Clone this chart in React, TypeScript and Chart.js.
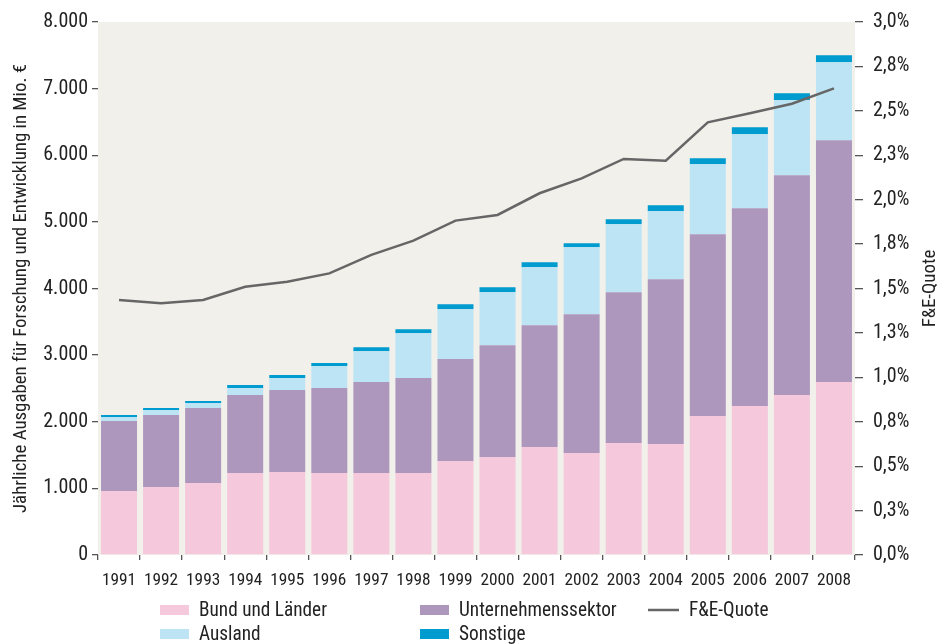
import React, { useEffect, useRef } from "react";
import { Chart, registerables } from "chart.js";

Chart.register(...registerables);

const years = ["1991","1992","1993","1994","1995","1996","1997","1998","1999","2000","2001","2002","2003","2004","2005","2006","2007","2008"];
const bundLaender = [960,1020,1080,1230,1245,1230,1230,1230,1410,1470,1620,1530,1680,1665,2085,2235,2400,2595];
const unternehmen = [1050,1080,1125,1170,1230,1275,1365,1425,1530,1680,1830,2085,2265,2475,2730,2970,3300,3630];
const ausland = [60,75,75,105,180,330,465,675,750,795,870,1005,1020,1020,1050,1110,1125,1170];
const sonstige = [30,30,30,45,45,45,60,60,75,75,75,60,75,90,90,105,105,105];
const feQuote = [1.435,1.417,1.435,1.51,1.538,1.585,1.689,1.769,1.882,1.914,2.036,2.12,2.229,2.219,2.435,2.486,2.54,2.626];

const leftTitle = "Jährliche Ausgaben für Forschung und Entwicklung in Mio. €";
const rightTitle = "F&E-Quote";

const FONT = "'Roboto Condensed', 'Liberation Sans Narrow', 'DejaVu Sans Condensed', sans-serif";
const TEXT = "#222222";
const TICK = "#555555";

function measure(text: string, size: number): number {
  const c = document.createElement("canvas").getContext("2d")!;
  c.font = `${size}px ${FONT}`;
  return c.measureText(text).width;
}
function fitSize(text: string, targetW: number): number {
  return Math.round((100 * targetW / measure(text, 100)) * 10) / 10;
}

export default function App() {
  const ref = useRef<HTMLCanvasElement | null>(null);
  useEffect(() => {
    document.body.style.margin = "0";
    if (!ref.current) return;
    const xSize = Math.min(fitSize("1991", 31) * 1.1, 18);
    const ySize = Math.min(fitSize("8.000", 42) * 1.1, 20);
    const y1Size = Math.min(fitSize("3,0%", 39) * 1.1, 20);
    const LEG = 19.5;
    const legScale = Math.min(1, 128 / measure("Bund und Länder", LEG));
    const TIT = 19;
    const titScale = Math.min(1, 449 / measure(leftTitle, TIT));

    const bgPlugin = {
      id: "plotBg",
      beforeDraw(chart: any) {
        const { ctx, chartArea } = chart;
        ctx.save();
        ctx.fillStyle = "#F1F0EA";
        ctx.fillRect(chartArea.left, chartArea.top, chartArea.right - chartArea.left, chartArea.bottom - chartArea.top);
        ctx.restore();
      },
    };

    const titlesPlugin = {
      id: "axisTitles",
      afterDraw(chart: any) {
        const { ctx, chartArea } = chart;
        const cy = (chartArea.top + chartArea.bottom) / 2;
        for (const [t, x] of [[leftTitle, 21], [rightTitle, 930]] as [string, number][]) {
          ctx.save();
          ctx.fillStyle = TEXT;
          ctx.textAlign = "center";
          ctx.textBaseline = "middle";
          ctx.font = `${TIT}px ${FONT}`;
          ctx.translate(x, cy);
          ctx.rotate(-Math.PI / 2);
          ctx.scale(titScale, 1);
          ctx.fillText(t, 0, 0);
          ctx.restore();
        }
      },
    };

    const legendPlugin = {
      id: "gridLegend",
      afterDraw(chart: any) {
        const { ctx } = chart;
        const ds = chart.data.datasets;
        const find = (l: string) => ds.find((d: any) => d.label === l);
        const items = [
          { d: find("Bund und Länder"), x: 160, y: 610 },
          { d: find("Unternehmenssektor"), x: 420, y: 610 },
          { d: find("F&E-Quote"), x: 648, y: 610 },
          { d: find("Ausland"), x: 160, y: 634 },
          { d: find("Sonstige"), x: 420, y: 634 },
        ];
        for (const it of items) {
          if (!it.d) continue;
          ctx.save();
          if (it.d.type === "line") {
            ctx.strokeStyle = it.d.borderColor;
            ctx.lineWidth = 2.5;
            ctx.beginPath();
            ctx.moveTo(it.x, it.y);
            ctx.lineTo(it.x + 31, it.y);
            ctx.stroke();
          } else {
            ctx.fillStyle = it.d.backgroundColor;
            ctx.fillRect(it.x, it.y - 5, 29, 10);
          }
          ctx.fillStyle = TEXT;
          ctx.font = `${LEG}px ${FONT}`;
          ctx.textBaseline = "middle";
          ctx.textAlign = "left";
          ctx.translate(it.x + (it.d.type === "line" ? 41 : 39), it.y + 1);
          ctx.scale(legScale, 1);
          ctx.fillText(it.d.label, 0, 0);
          ctx.restore();
        }
      },
    };

    const chart = new Chart(ref.current, {
      type: "bar",
      data: {
        labels: years,
        datasets: [
          { type: "line", label: "F&E-Quote", data: feQuote, yAxisID: "y1", borderColor: "#666666", backgroundColor: "#666666", borderWidth: 2.5, pointRadius: 0, tension: 0, order: 0 } as any,
          { label: "Bund und Länder", data: bundLaender, backgroundColor: "#F5C8DC", yAxisID: "y", order: 1, stack: "s" },
          { label: "Unternehmenssektor", data: unternehmen, backgroundColor: "#AD97BD", yAxisID: "y", order: 1, stack: "s" },
          { label: "Ausland", data: ausland, backgroundColor: "#BCE4F5", yAxisID: "y", order: 1, stack: "s" },
          { label: "Sonstige", data: sonstige, backgroundColor: "#009BCF", yAxisID: "y", order: 1, stack: "s" },
        ],
      },
      options: {
        responsive: false,
        animation: false,
        layout: { padding: { top: 22, left: 0, right: 0, bottom: 55 } },
        datasets: { bar: { barPercentage: 0.856, categoryPercentage: 1, borderWidth: 0 } },
        plugins: { legend: { display: false }, tooltip: { enabled: false }, title: { display: false } },
        scales: {
          x: {
            stacked: true,
            grid: { offset: true, drawOnChartArea: false, drawTicks: true, tickLength: 5, color: TICK, lineWidth: 1.3 },
            border: { display: false },
            ticks: { color: TEXT, font: { family: FONT, size: xSize }, padding: 10, maxRotation: 0, autoSkip: false },
            afterFit: (s: any) => { s.height = 34; },
          },
          y: {
            position: "left",
            stacked: true,
            min: 0,
            max: 8000,
            grid: { drawOnChartArea: false, drawTicks: true, tickLength: 6, color: TICK, lineWidth: 1.3 },
            border: { display: false },
            ticks: {
              stepSize: 1000,
              color: TEXT,
              font: { family: FONT, size: ySize },
              padding: 4,
              callback: (v: any) => { const n = Number(v); return n === 0 ? "0" : (n / 1000).toFixed(0) + ".000"; },
            },
            afterFit: (s: any) => { s.width = 98; },
          },
          y1: {
            position: "right",
            stacked: false,
            min: 0,
            max: 3,
            grid: { drawOnChartArea: false, drawTicks: true, tickLength: 8, color: TICK, lineWidth: 1.3 },
            border: { display: false },
            ticks: {
              stepSize: 0.25,
              color: TEXT,
              font: { family: FONT, size: y1Size },
              padding: 10,
              callback: (v: any) => { const r = Math.round(Number(v) * 10 + 1e-9) / 10; return r.toFixed(1).replace(".", ",") + "%"; },
            },
            afterFit: (s: any) => { s.width = 86; },
          },
        },
      } as any,
      plugins: [bgPlugin, titlesPlugin, legendPlugin],
    });
    return () => chart.destroy();
  }, []);
  return (
    <div style={{ width: 941, height: 644 }}>
      <canvas ref={ref} width={941} height={644} />
    </div>
  );
}
